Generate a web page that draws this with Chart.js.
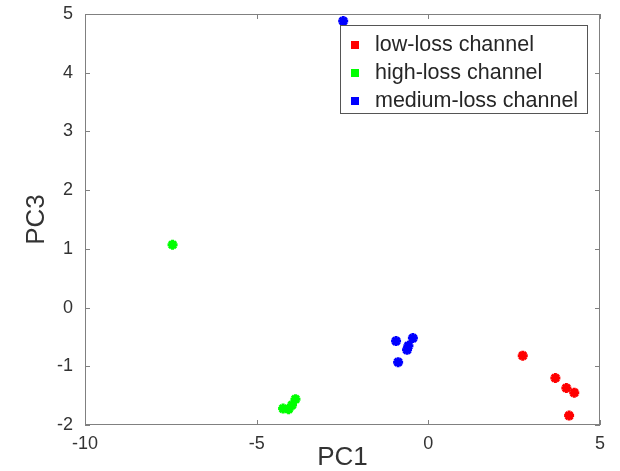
<!DOCTYPE html>
<html>
<head>
<meta charset="utf-8">
<script src="https://cdn.jsdelivr.net/npm/chart.js@4"></script>
<style>
  body { margin: 0; background: #fff; }
  canvas { display: block; }
</style>
</head>
<body>
<canvas id="graphCanvas" width="620" height="471"></canvas>
<script>
// datos
const seriesNames = ['low-loss channel', 'high-loss channel', 'medium-loss channel'];
const seriesColors = ['#ff0000', '#00ff00', '#0000ff'];

const lowX = [2.75, 3.7, 4.02, 4.25, 4.1];
const lowY = [-0.82, -1.2, -1.37, -1.45, -1.84];
const highX = [-7.45, -4.23, -4.07, -3.97, -3.87];
const highY = [1.07, -1.72, -1.73, -1.66, -1.56];
const medX = [-2.48, -0.94, -0.45, -0.62, -0.58, -0.88];
const medY = [4.88, -0.57, -0.52, -0.72, -0.65, -0.93];

const xTicks = [-10, -5, 0, 5];
const yTicks = [-2, -1, 0, 1, 2, 3, 4, 5];

const FONT = 'Liberation Sans, Arial, sans-serif';
const AXIS_GRAY = '#808080';

function toPoints(xs, ys) {
    return xs.map((x, i) => ({ x: x, y: ys[i] }));
}

// caja del eje con marcas hacia dentro (estilo MATLAB)
const boxPlugin = {
    id: 'box',
    beforeDatasetsDraw(chart) {
        const { ctx, chartArea: a, scales } = chart;
        ctx.save();
        ctx.strokeStyle = AXIS_GRAY;
        ctx.lineWidth = 1;
        ctx.strokeRect(a.left + 0.5, a.top + 0.5, a.right - a.left - 1, a.bottom - a.top - 1);
        ctx.beginPath();
        xTicks.forEach(v => {
            const px = Math.round(scales.x.getPixelForValue(v)) + 0.5;
            ctx.moveTo(px, a.bottom); ctx.lineTo(px, a.bottom - 5);
            ctx.moveTo(px, a.top); ctx.lineTo(px, a.top + 5);
        });
        yTicks.forEach(v => {
            const py = Math.round(scales.y.getPixelForValue(v)) + 0.5;
            ctx.moveTo(a.left, py); ctx.lineTo(a.left + 5, py);
            ctx.moveTo(a.right, py); ctx.lineTo(a.right - 5, py);
        });
        ctx.stroke();
        ctx.restore();
    }
};

// leyenda dentro del area, arriba a la derecha
const legendPlugin = {
    id: 'boxLegend',
    afterDraw(chart) {
        const ctx = chart.ctx;
        const left = 340, top = 25, w = 247, rowH = 28;
        const h = rowH * chart.data.datasets.length + 4;
        ctx.save();
        ctx.fillStyle = '#fff';
        ctx.fillRect(left, top, w, h);
        ctx.strokeStyle = '#555';
        ctx.lineWidth = 1;
        ctx.strokeRect(left + 0.5, top + 0.5, w, h);
        ctx.font = '21.5px ' + FONT;
        ctx.textBaseline = 'middle';
        chart.data.datasets.forEach((ds, i) => {
            const cy = top + 20 + i * rowH;
            ctx.fillStyle = ds.borderColor;
            ctx.fillRect(351, cy - 4, 8, 8);
            ctx.fillStyle = '#262626';
            ctx.fillText(ds.label, 375, cy);
        });
        ctx.restore();
    }
};

const ctx = document.getElementById('graphCanvas').getContext('2d');
const allX = [lowX, highX, medX];
const allY = [lowY, highY, medY];

const chart = new Chart(ctx, {
    type: 'scatter',
    data: {
        datasets: seriesNames.map((name, i) => ({
            label: name,
            data: toPoints(allX[i], allY[i]),
            borderColor: seriesColors[i],
            backgroundColor: seriesColors[i],
            pointStyle: 'star',
            pointRadius: 5,
            pointBorderWidth: 3,
            clip: false
        }))
    },
    options: {
        responsive: false,
        animation: false,
        devicePixelRatio: 1,
        layout: { padding: { top: 14, right: 20, left: 0, bottom: 0 } },
        plugins: {
            legend: { display: false },
            tooltip: { enabled: false }
        },
        scales: {
            x: {
                type: 'linear',
                min: -10,
                max: 5,
                afterFit: s => { s.height = 46; s.paddingLeft = 0; s.paddingRight = 0; },
                afterBuildTicks: s => { s.ticks = xTicks.map(v => ({ value: v })); },
                grid: { display: false, drawTicks: false },
                border: { display: false },
                ticks: { color: '#333', padding: 8, font: { family: FONT, size: 18 } },
                title: {
                    display: true, text: 'PC1', color: '#333',
                    font: { family: FONT, size: 26, lineHeight: 1 }, padding: { top: 0, bottom: 0 }
                }
            },
            y: {
                type: 'linear',
                min: -2,
                max: 5,
                afterFit: s => { s.width = 85; s.paddingTop = 0; s.paddingBottom = 0; },
                afterBuildTicks: s => { s.ticks = yTicks.map(v => ({ value: v })); },
                grid: { display: false, drawTicks: false },
                border: { display: false },
                ticks: { color: '#333', padding: 12, font: { family: FONT, size: 18 } },
                title: {
                    display: true, text: 'PC3', color: '#333',
                    font: { family: FONT, size: 26, lineHeight: 1 }, padding: { top: 24, bottom: 0 }
                }
            }
        }
    },
    plugins: [boxPlugin, legendPlugin]
});
</script>
</body>
</html>
